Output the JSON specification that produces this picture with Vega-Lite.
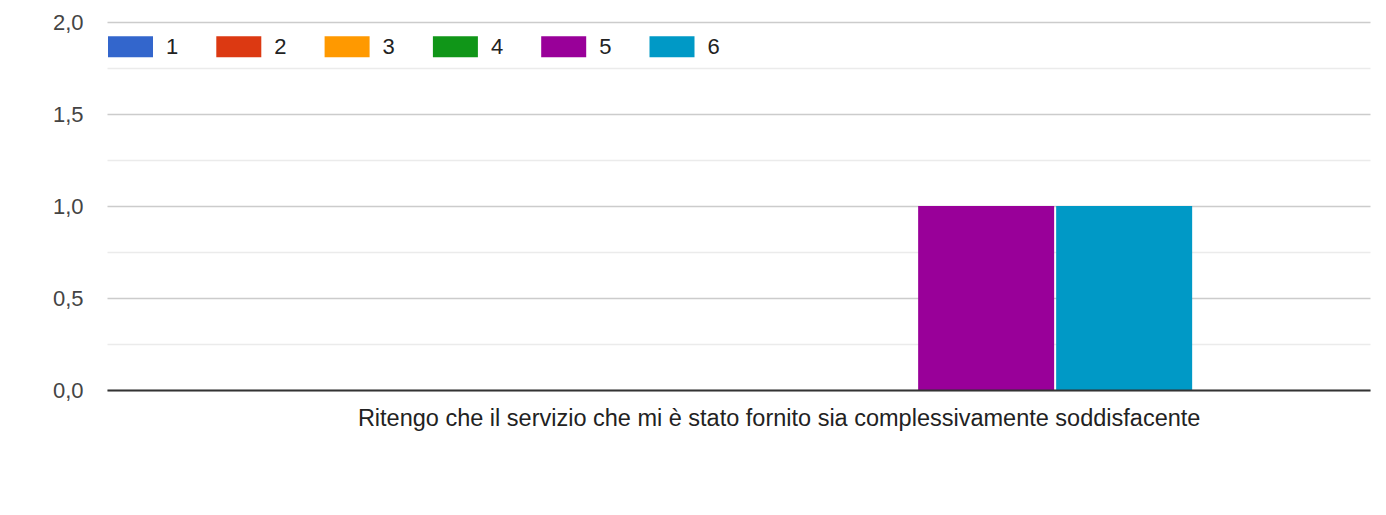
{
  "$schema": "https://vega.github.io/schema/vega-lite/v6.json",
  "autosize": "none",
  "width": 1263,
  "height": 368,
  "padding": {"left": 107, "top": 22, "right": 16, "bottom": 125},
  "background": "#ffffff",
  "config": {
    "font": "Liberation Sans",
    "view": {"stroke": null}
  },
  "data": {
    "values": [
      {"domanda": "Ritengo che il servizio che mi è stato fornito sia complessivamente soddisfacente", "serie": "1", "valore": 0},
      {"domanda": "Ritengo che il servizio che mi è stato fornito sia complessivamente soddisfacente", "serie": "2", "valore": 0},
      {"domanda": "Ritengo che il servizio che mi è stato fornito sia complessivamente soddisfacente", "serie": "3", "valore": 0},
      {"domanda": "Ritengo che il servizio che mi è stato fornito sia complessivamente soddisfacente", "serie": "4", "valore": 0},
      {"domanda": "Ritengo che il servizio che mi è stato fornito sia complessivamente soddisfacente", "serie": "5", "valore": 1},
      {"domanda": "Ritengo che il servizio che mi è stato fornito sia complessivamente soddisfacente", "serie": "6", "valore": 1}
    ]
  },
  "mark": {"type": "bar"},
  "encoding": {
    "x": {
      "field": "domanda",
      "type": "nominal",
      "scale": {"paddingInner": 0, "paddingOuter": 0.2645, "align": 0.593},
      "axis": {
        "title": null,
        "labelAngle": 0,
        "labelFontSize": 23.5,
        "labelColor": "#222222",
        "labelPadding": 16,
        "labelLimit": 0,
        "ticks": false,
        "domainColor": "#333333",
        "domainWidth": 2,
        "zindex": 1
      }
    },
    "xOffset": {
      "field": "serie",
      "type": "nominal",
      "scale": {"paddingInner": 0.0145, "paddingOuter": 0}
    },
    "y": {
      "field": "valore",
      "type": "quantitative",
      "scale": {"domain": [0, 2], "nice": false},
      "axis": {
        "title": null,
        "values": [0, 0.25, 0.5, 0.75, 1, 1.25, 1.5, 1.75, 2],
        "labelExpr": "datum.value % 0.5 === 0 ? replace(format(datum.value, '.1f'), '.', ',') : ''",
        "labelFontSize": 22,
        "labelColor": "#444444",
        "labelPadding": 24,
        "ticks": false,
        "domain": false,
        "gridColor": {"condition": {"test": "datum.value % 0.5 === 0", "value": "#cccccc"}, "value": "#ebebeb"},
        "gridWidth": 1.3
      }
    },
    "color": {
      "field": "serie",
      "type": "nominal",
      "scale": {"domain": ["1", "2", "3", "4", "5", "6"], "range": ["#3366cc", "#dc3912", "#ff9900", "#109618", "#990099", "#0099c6"]},
      "legend": {
        "title": null,
        "orient": "none",
        "legendX": 1,
        "legendY": 2,
        "direction": "horizontal",
        "columns": 6,
        "padding": 0,
        "symbolType": "M-1,-0.4667H1V0.4667H-1Z",
        "symbolSize": 2025,
        "symbolStrokeWidth": 0,
        "symbolOpacity": 1,
        "labelFontSize": 22,
        "labelColor": "#222222",
        "labelOffset": 13,
        "columnPadding": 37.3
      }
    }
  }
}
